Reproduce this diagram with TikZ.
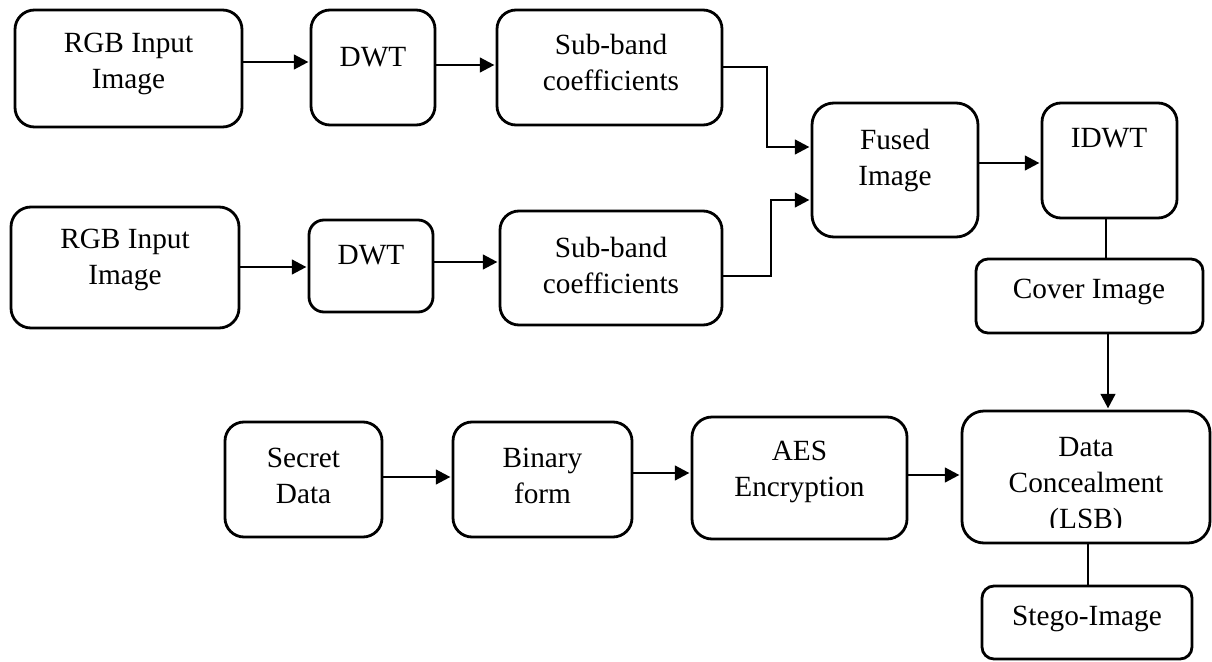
\documentclass[tikz,border=0pt]{standalone}
\usepackage{fontspec}
\setmainfont{Liberation Serif}
\usetikzlibrary{arrows.meta}
\begin{document}
\begin{tikzpicture}[x=1pt,y=-1pt,
  box/.style={draw,line width=2.8pt,inner sep=0pt,rounded corners=#1},
  box/.default=19pt,
  txt/.style={align=center,inner sep=0pt,font=\fontsize{29.3}{36}\selectfont},
  arr/.style={line width=1.3pt,shorten >=1.3pt,-{Triangle[length=14.5pt,width=15pt]}},
  ln/.style={line width=1.3pt}]
\useasboundingbox (0,0) rectangle (1212,661);
% boxes
\node[box=19.5pt,minimum width=227pt,minimum height=117pt] (rgb1) at (128.5,68.5) {};
\node[box=19pt,minimum width=124pt,minimum height=115pt] (dwt1) at (373,67.5) {};
\node[box=19pt,minimum width=225pt,minimum height=115pt] (sb1) at (609.5,67.5) {};
\node[box=20pt,minimum width=228pt,minimum height=121pt] (rgb2) at (125,267.5) {};
\node[box=15pt,minimum width=124pt,minimum height=92pt] (dwt2) at (371,266) {};
\node[box=19pt,minimum width=222pt,minimum height=114pt] (sb2) at (611,268) {};
\node[box=22pt,minimum width=166pt,minimum height=134pt] (fused) at (895,170) {};
\node[box=19pt,minimum width=135pt,minimum height=115pt] (idwt) at (1109.5,160.5) {};
\node[box=12pt,minimum width=227pt,minimum height=74pt] (cover) at (1089.5,296) {};
\node[box=19pt,minimum width=157pt,minimum height=115pt] (secret) at (303.5,479.5) {};
\node[box=19pt,minimum width=179pt,minimum height=115pt] (binary) at (542.5,479.5) {};
\node[box=20pt,minimum width=215pt,minimum height=122pt] (aes) at (799.5,478) {};
\node[box=22pt,minimum width=248pt,minimum height=132pt] (dc) at (1086,477) {};
\node[box=12pt,minimum width=210pt,minimum height=73pt] (stego) at (1087,622.5) {};
% texts
\node[txt] (rgb1t) at (128.5,63.5) {RGB Input\\Image};
\node[txt] (dwt1t) at (373,57) {DWT};
\node[txt] (sb1t) at (611,62.5) {Sub-band\\coefficients};
\node[txt] (rgb2t) at (125,260) {RGB Input\\Image};
\node[txt] (dwt2t) at (371,255) {DWT};
\node[txt] (sb2t) at (611,265) {Sub-band\\coefficients};
\node[txt] (fusedt) at (895,160) {Fused\\Image};
\node[txt] (idwtt) at (1109,138) {IDWT};
\node[txt] (covert) at (1089,292) {Cover Image};
\node[txt] (secrett) at (303.5,476) {Secret\\Data};
\node[txt] (binaryt) at (542.5,476) {Binary\\form};
\node[txt] (aest) at (799.5,472) {AES\\Encryption};
\begin{scope}
  \clip (962,411) rectangle (1210,527);
  \node[txt] (dct) at (1086,486) {Data\\Concealment\\(LSB)};
\end{scope}
\node[txt] (stegot) at (1087,619) {Stego-Image};
% connectors
\draw[arr] (rgb1.east |- 0,62) -- (dwt1.west |- 0,62);
\draw[arr] (dwt1.east |- 0,65) -- (sb1.west |- 0,65);
\draw[arr] (sb1.east |- 0,67) -- (767,67) |- (fused.west |- 0,147);
\draw[arr] (rgb2.east |- 0,267) -- (dwt2.west |- 0,267);
\draw[arr] (dwt2.east |- 0,262) -- (sb2.west |- 0,262);
\draw[arr] (sb2.east |- 0,276) -- (771,276) |- (fused.west |- 0,200);
\draw[arr] (fused.east |- 0,163) -- (idwt.west |- 0,163);
\draw[ln] (idwt.south -| 1106,0) -- (cover.north -| 1106,0);
\draw[arr] (cover.south -| 1108,0) -- (dc.north -| 1108,0);
\draw[arr] (secret.east |- 0,477) -- (binary.west |- 0,477);
\draw[arr] (binary.east |- 0,473) -- (aes.west |- 0,473);
\draw[arr] (aes.east |- 0,475) -- (dc.west |- 0,475);
\draw[ln] (dc.south -| 1088,0) -- (stego.north -| 1088,0);
\end{tikzpicture}
\end{document}
